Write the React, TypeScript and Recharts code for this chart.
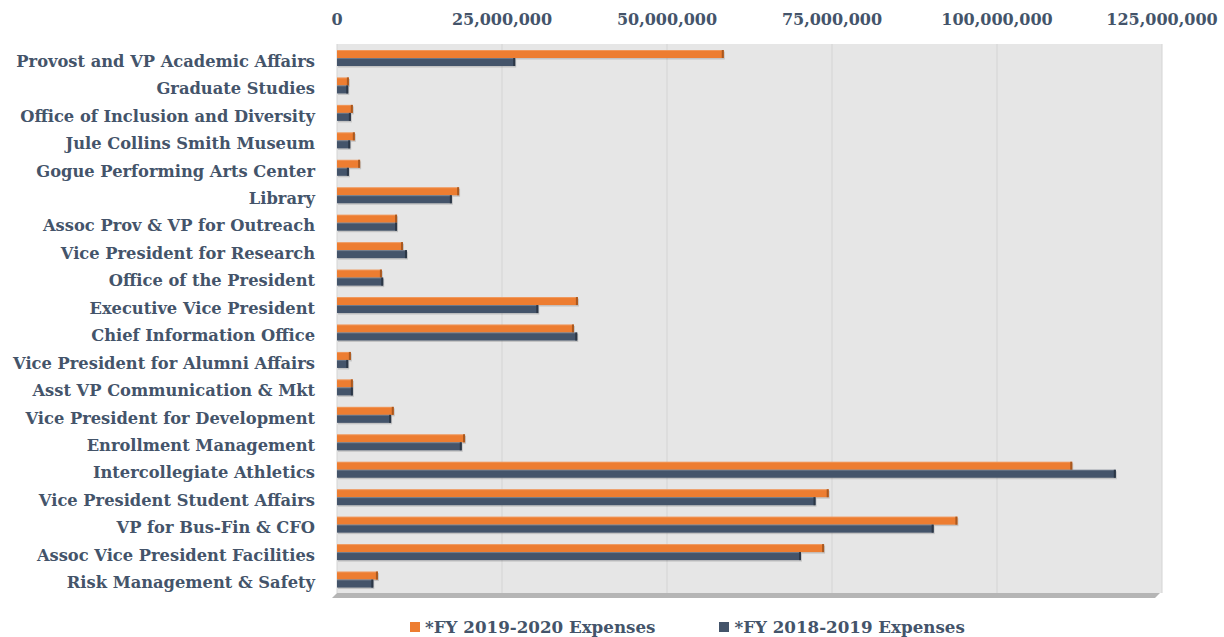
import { BarChart, Bar, XAxis, YAxis, CartesianGrid, Legend } from 'recharts'

// departments, top to bottom
const departments = [
  'Provost and VP Academic Affairs',
  'Graduate Studies',
  'Office of Inclusion and Diversity',
  'Jule Collins Smith Museum',
  'Gogue Performing Arts Center',
  'Library',
  'Assoc Prov & VP for Outreach',
  'Vice President for Research',
  'Office of the President',
  'Executive Vice President',
  'Chief Information Office',
  'Vice President for Alumni Affairs',
  'Asst VP Communication & Mkt',
  'Vice President for Development',
  'Enrollment Management',
  'Intercollegiate Athletics',
  'Vice President Student Affairs',
  'VP for Bus-Fin & CFO',
  'Assoc Vice President Facilities',
  'Risk Management & Safety',
]

// *FY 2019-2020 Expenses
const fy2020 = [
  58600000, 1800000, 2400000, 2700000, 3500000, 18500000, 9100000, 10000000, 6800000, 36500000,
  35900000, 2100000, 2400000, 8600000, 19400000, 111400000, 74500000, 94000000, 73800000, 6200000,
]

// *FY 2018-2019 Expenses
const fy2019 = [
  27000000, 1700000, 2100000, 2000000, 1800000, 17400000, 9100000, 10600000, 7000000, 30500000,
  36400000, 1700000, 2400000, 8200000, 18900000, 118000000, 72500000, 90400000, 70300000, 5500000,
]

const xTicks = [0, 25000000, 50000000, 75000000, 100000000, 125000000]

const seriesNames = ['*FY 2019-2020 Expenses', '*FY 2018-2019 Expenses']
const colors = ['#ed7d31', '#44546a']
const sideColors = ['#a9581f', '#2b3645']

const data = departments.map((name, i) => ({ name, fy2020: fy2020[i], fy2019: fy2019[i] }))

const FONT = '"DejaVu Serif", serif'
const TEXT = '#44546a'

const make3D = (idx: number) => (props: any) => {
  const { x, y, width, height } = props
  if (!width || width <= 0) return <g />
  const d = 2
  return (
    <g>
      <rect x={x + 1} y={y + 1.5} width={width} height={height} fill="rgba(0,0,0,0.15)" />
      <rect x={x} y={y} width={width} height={height} fill={colors[idx]} />
      <rect x={x} y={y} width={width} height={1} fill="rgba(255,255,255,0.2)" />
      <rect x={x + width - d} y={y} width={d} height={height} fill={sideColors[idx]} />
    </g>
  )
}

const CatTick = (props: any) => {
  const { x, y, payload } = props
  return (
    <text x={x - 14} y={y} dy={9} textAnchor="end" fontFamily={FONT} fontWeight="bold" fontSize={16.3} fill={TEXT}>
      {payload.value}
    </text>
  )
}

const ValTick = (props: any) => {
  const { x, payload } = props
  return (
    <text x={x} y={25} textAnchor="middle" fontFamily={FONT} fontWeight="bold" fontSize={16} fill={TEXT}>
      {Number(payload.value).toLocaleString('en-US')}
    </text>
  )
}

const renderLegend = () => (
  <div style={{ display: 'flex', fontFamily: FONT, fontWeight: 'bold', fontSize: 16.7, color: TEXT }}>
    {seriesNames.map((s, i) => (
      <div key={s} style={{ display: 'flex', alignItems: 'center', marginRight: 64 }}>
        <span style={{ width: 10, height: 10, background: colors[i], display: 'inline-block', marginRight: 5 }} />
        {s}
      </div>
    ))}
  </div>
)

export default function App() {
  return (
    <div style={{ position: 'absolute', left: 0, top: 0, width: 1224, height: 637, background: '#fff' }}>
      <div
        style={{
          position: 'absolute',
          left: 337,
          top: 593,
          width: 823,
          height: 5,
          background: '#b5b5b5',
          transform: 'skewX(-45deg)',
          transformOrigin: 'top left',
        }}
      />
      <BarChart
        width={1224}
        height={637}
        data={data}
        layout="vertical"
        margin={{ top: 4, right: 62, bottom: 24, left: 0 }}
        barGap={0}
        barSize={8}
        style={{ position: 'absolute', left: 0, top: 0 }}
      >
        <CartesianGrid horizontal={false} fill="#e6e6e6" stroke="#d4d4d4" />
        <XAxis
          type="number"
          orientation="top"
          domain={[0, 125000000]}
          ticks={xTicks}
          interval={0}
          axisLine={false}
          tickLine={false}
          tick={<ValTick />}
          height={40}
        />
        <YAxis
          type="category"
          dataKey="name"
          width={337}
          axisLine={false}
          tickLine={false}
          interval={0}
          tick={<CatTick />}
        />
        <Legend
          verticalAlign="bottom"
          content={renderLegend}
          wrapperStyle={{ left: 410, bottom: 0, width: 'auto' }}
        />
        <Bar dataKey="fy2020" name={seriesNames[0]} fill={colors[0]} shape={make3D(0)} isAnimationActive={false} />
        <Bar dataKey="fy2019" name={seriesNames[1]} fill={colors[1]} shape={make3D(1)} isAnimationActive={false} />
      </BarChart>
    </div>
  )
}
